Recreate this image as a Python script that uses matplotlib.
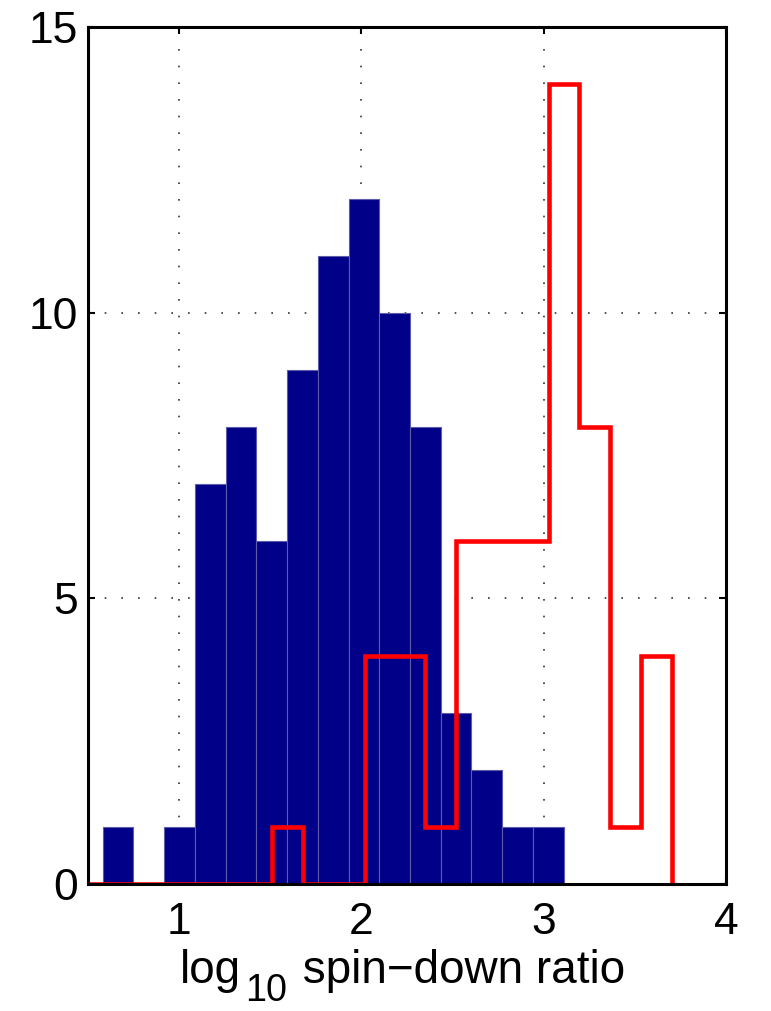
import numpy as np
import matplotlib
matplotlib.use("Agg")
import matplotlib.pyplot as plt

plt.rcParams['font.family'] = ['Liberation Sans', 'DejaVu Sans']

# blue histogram: bin edges and counts
blue_edges = [0.582, 0.750, 0.919, 1.087, 1.256, 1.424, 1.592, 1.761, 1.929,
              2.098, 2.266, 2.434, 2.603, 2.771, 2.940, 3.108]
blue_counts = [1, 0, 1, 7, 8, 6, 9, 11, 12, 10, 8, 3, 2, 1, 1]

# red outline histogram: bin edges and counts
red_edges = [0.40, 1.51, 1.68, 1.85, 2.02, 2.18, 2.35, 2.52, 2.69, 2.86,
             3.03, 3.19, 3.36, 3.53, 3.70]
red_counts = [0, 1, 0, 0, 4, 4, 1, 6, 6, 6, 14, 8, 1, 4]

fig = plt.figure(figsize=(7.71, 10.11), dpi=100)
ax = fig.add_axes([0.114, 0.1256, 0.828, 0.8474])

left = np.array(blue_edges[:-1])
widths = np.diff(blue_edges)
ax.bar(left, blue_counts, width=widths, align='edge', color='#000088',
       edgecolor='#5c5caa', linewidth=0.8, zorder=2)

# red step outline (drops to zero at last edge)
xs = [red_edges[0]]
ys = [0]
for i, c in enumerate(red_counts):
    xs += [red_edges[i], red_edges[i + 1]]
    ys += [c, c]
xs.append(red_edges[-1])
ys.append(0)
ax.plot(xs, ys, color='red', linewidth=3.3, zorder=3, solid_joinstyle='miter')

ax.set_xlim(0.5, 4)
ax.set_ylim(0, 15)
ax.set_xticks([1, 2, 3, 4])
ax.set_yticks([0, 5, 10, 15])
ax.grid(True, linestyle=(0, (1, 9)), color='#333333', linewidth=1.2, zorder=1)
ax.set_axisbelow(True)
ax.tick_params(direction='in', length=5, width=1.5, labelsize=32, pad=7,
               top=True, right=True)
ax.tick_params(axis='x', pad=13)
for s in ax.spines.values():
    s.set_linewidth(2.2)
    s.set_zorder(5)

# x label built in pieces so the subscript looks like the original
fs = 33
base_y = 1 - 983 / 1011
sub_y = 1 - 1001 / 1011
fig.canvas.draw()
r = fig.canvas.get_renderer()
t1 = fig.text(180 / 771, base_y, 'log', fontsize=fs, va='baseline')
x1 = t1.get_window_extent(r).x1 / fig.bbox.width
t2 = fig.text(x1 + 4 / 771, sub_y, '10', fontsize=fs * 0.82, va='baseline')
x2 = t2.get_window_extent(r).x1 / fig.bbox.width
fig.text(x2 + 3 / 771, base_y, ' spin\u2212down ratio', fontsize=fs, va='baseline')

fig.savefig('out.png', dpi=100)
